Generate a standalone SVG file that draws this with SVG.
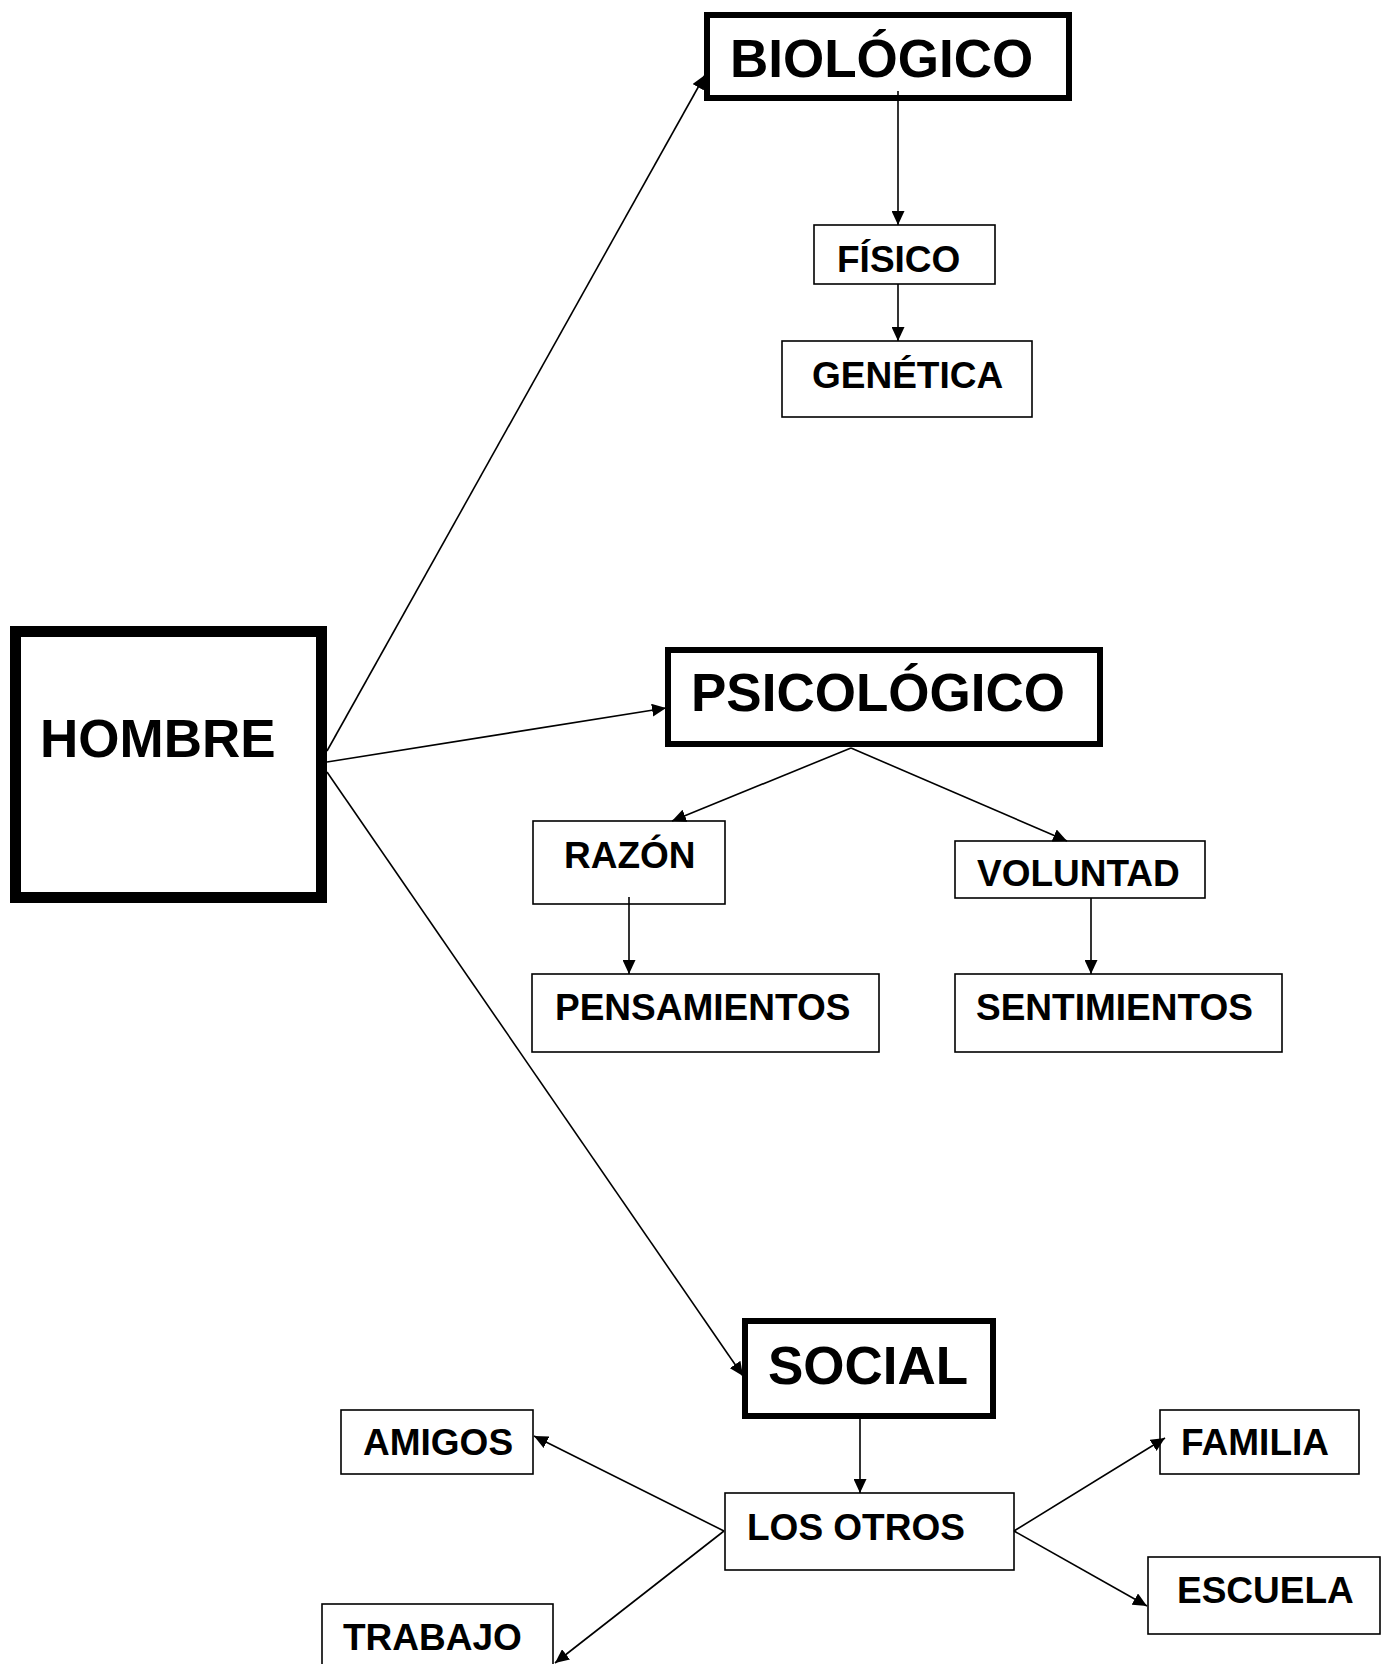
<svg xmlns="http://www.w3.org/2000/svg" width="1382" height="1664" viewBox="0 0 1382 1664">
<style>
.big{fill:#fff;stroke:#000;stroke-width:6}
.box{fill:#fff;stroke:#000;stroke-width:1.6}
.t{font-family:"Liberation Sans",Arial,sans-serif;font-weight:bold;fill:#000}
.tb{font-size:53px}
.ts{font-size:37px}
.c{fill:none;stroke:#000;stroke-width:1.6;marker-end:url(#ah)}
</style>
<defs>
<marker id="ah" markerUnits="userSpaceOnUse" markerWidth="14" markerHeight="13" refX="14" refY="6.5" orient="auto">
<path d="M0,0 L14,6.5 L0,13 z" fill="#000"/>
</marker>
</defs>
<rect width="1382" height="1664" fill="#fff"/>
<g id="hombre"><rect x="15.5" y="631.5" width="306" height="266" fill="#fff" stroke="#000" stroke-width="11"/><text class="t tb" x="40" y="757">HOMBRE</text></g>
<g id="biologico"><rect class="big" x="707" y="15" width="362" height="83"/><text class="t tb" x="730" y="77">BIOLÓGICO</text></g>
<g id="fisico"><rect class="box" x="814" y="225" width="181" height="59"/><text class="t ts" x="837" y="272">FÍSICO</text></g>
<g id="genetica"><rect class="box" x="782" y="341" width="250" height="76"/><text class="t ts" x="812" y="388">GENÉTICA</text></g>
<g id="psicologico"><rect class="big" x="668" y="650" width="432" height="94"/><text class="t tb" x="691" y="711">PSICOLÓGICO</text></g>
<g id="razon"><rect class="box" x="533" y="821" width="192" height="83"/><text class="t ts" x="564" y="868">RAZÓN</text></g>
<g id="voluntad"><rect class="box" x="955" y="841" width="250" height="57"/><text class="t ts" x="977" y="886">VOLUNTAD</text></g>
<g id="pensamientos"><rect class="box" x="532" y="974" width="347" height="78"/><text class="t ts" x="555" y="1020">PENSAMIENTOS</text></g>
<g id="sentimientos"><rect class="box" x="955" y="974" width="327" height="78"/><text class="t ts" x="976" y="1020">SENTIMIENTOS</text></g>
<g id="social"><rect class="big" x="745" y="1321" width="248" height="95" stroke-width="5.5"/><text class="t tb" x="768" y="1384">SOCIAL</text></g>
<g id="amigos"><rect class="box" x="341" y="1410" width="192" height="64"/><text class="t ts" x="363" y="1455">AMIGOS</text></g>
<g id="familia"><rect class="box" x="1160" y="1410" width="199" height="64"/><text class="t ts" x="1181" y="1455">FAMILIA</text></g>
<g id="losotros"><rect class="box" x="725" y="1493" width="289" height="77"/><text class="t ts" x="747" y="1540">LOS OTROS</text></g>
<g id="escuela"><rect class="box" x="1148" y="1557" width="232" height="77"/><text class="t ts" x="1177" y="1603">ESCUELA</text></g>
<g id="trabajo"><rect class="box" x="322" y="1604" width="231" height="62"/><text class="t ts" x="343" y="1650">TRABAJO</text></g>
<g id="connectors">
<path class="c" d="M327,751 L705,75"/>
<path class="c" d="M327,762 L666,708"/>
<path class="c" d="M327,772 L743,1376"/>
<path class="c" d="M898,91 L898,225"/>
<path class="c" d="M898,284 L898,341"/>
<path class="c" d="M851,748 L672,821"/>
<path class="c" d="M851,748 L1067,841"/>
<path class="c" d="M629,897 L629,974"/>
<path class="c" d="M1091,898 L1091,974"/>
<path class="c" d="M860,1419 L860,1493"/>
<path class="c" d="M724,1531 L534,1436"/>
<path class="c" d="M724,1531 L555,1663"/>
<path class="c" d="M1014,1531 L1165,1438"/>
<path class="c" d="M1014,1531 L1147,1606"/>
</g>
</svg>
